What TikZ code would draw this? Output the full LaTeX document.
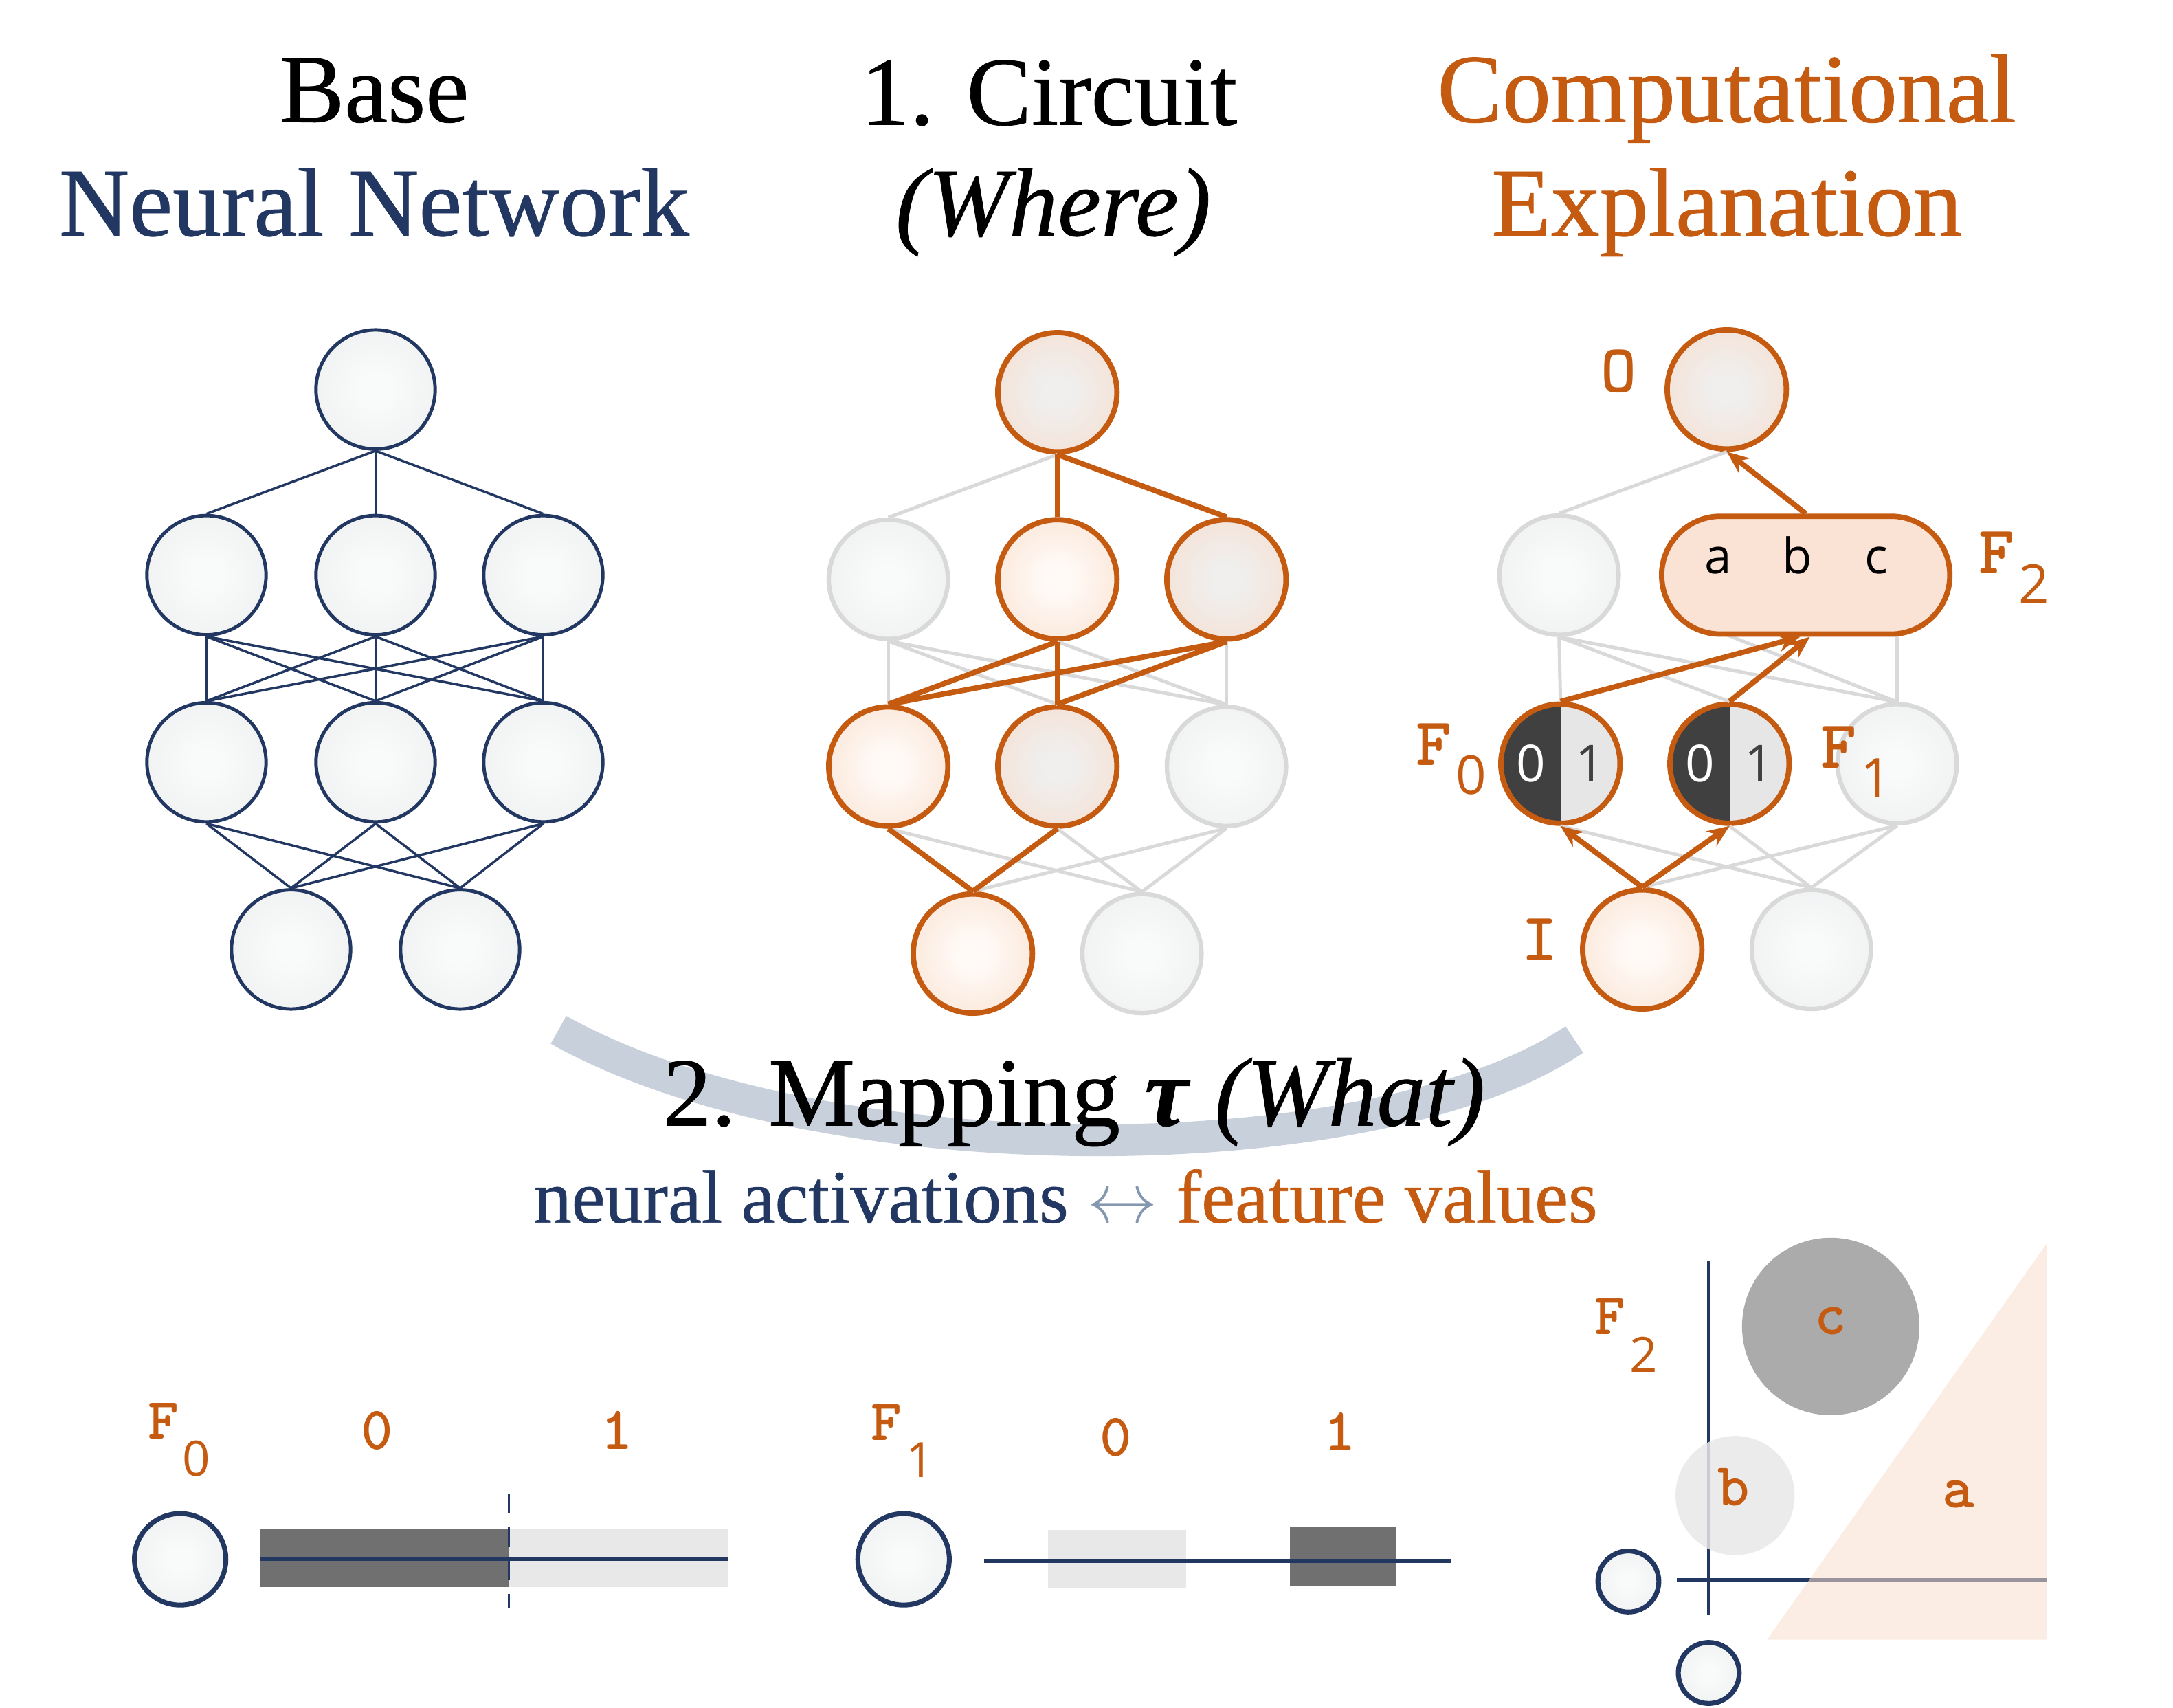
\documentclass[tikz,border=0pt]{standalone}
\usepackage{fontspec}
\setmainfont{Liberation Serif}
\setsansfont{Open Sans}
\newfontfamily\heavyserif{Liberation Serif}[FakeBold=0.6]
\usetikzlibrary{arrows.meta}
\definecolor{navy}{RGB}{34,56,98}
\definecolor{orng}{RGB}{197,90,17}
\definecolor{gbord}{RGB}{217,217,217}
\definecolor{gin}{RGB}{249,250,250}
\definecolor{gout}{RGB}{232,235,236}
\definecolor{pin}{RGB}{255,250,246}
\definecolor{pout}{RGB}{248,215,194}
\definecolor{pgin}{RGB}{240,239,238}
\definecolor{pillc}{RGB}{250,227,213}
\definecolor{darkbar}{RGB}{112,112,112}
\definecolor{lightbar}{RGB}{232,232,232}
\definecolor{ccirc}{RGB}{171,171,171}
\definecolor{arcband}{RGB}{200,208,220}
\definecolor{arrowg}{RGB}{132,151,176}
\definecolor{sdark}{RGB}{64,64,64}
\definecolor{slight}{RGB}{230,230,230}
\definecolor{trifill}{RGB}{250,222,205}
\pgfdeclareradialshading{gball}{\pgfpoint{0bp}{0bp}}{color(0bp)=(gin); color(6bp)=(gin); color(48bp)=(gout); color(72bp)=(gout)}
\pgfdeclareradialshading{oball}{\pgfpoint{0bp}{0bp}}{color(0bp)=(pin); color(6bp)=(pin); color(48bp)=(pout); color(72bp)=(pout)}
\pgfdeclareradialshading{ogball}{\pgfpoint{0bp}{0bp}}{color(0bp)=(pgin); color(6bp)=(pgin); color(48bp)=(pout); color(72bp)=(pout)}
\newcommand{\flabBig}[1]{{\fontsize{14}{14}\selectfont\ttfamily\bfseries F}\kern0.3mm\raisebox{-2.1mm}{\fontsize{11}{11}\selectfont\sffamily #1}}
\newcommand{\flabSmall}[1]{{\fontsize{12}{12}\selectfont\ttfamily\bfseries F}\kern0.3mm\raisebox{-2.7mm}{\fontsize{10}{10}\selectfont\sffamily #1}}
\begin{document}
\begin{tikzpicture}[x=0.1mm,y=-0.1mm,
  nnode/.style={circle,minimum size=8.6mm,inner sep=0pt,draw=navy,line width=0.7pt,shade,shading=gball},
  gnode/.style={circle,minimum size=8.6mm,inner sep=0pt,draw=gbord,line width=0.9pt,shade,shading=gball},
  onode/.style={circle,minimum size=8.6mm,inner sep=0pt,draw=orng,line width=1.1pt,shade,shading=oball},
  ognode/.style={onode,shading=ogball},
  splitnode/.style={circle,minimum size=8.6mm,inner sep=0pt,draw=orng,line width=1.1pt,
    path picture={\fill[sdark] (path picture bounding box.south west) rectangle (path picture bounding box.north);
                  \fill[slight] (path picture bounding box.south) rectangle (path picture bounding box.north east);}},
  pillnode/.style={rectangle,rounded corners=4.25mm,minimum width=20.8mm,minimum height=8.5mm,draw=orng,line width=1.1pt,fill=pillc},
  nedge/.style={navy,line width=0.5pt},
  gedge/.style={gbord,line width=0.7pt},
  oedge/.style={orng,line width=1.1pt},
  oarr/.style={oedge,-{Stealth[length=1.6mm,width=1.3mm]}},
  title/.style={font=\heavyserif\fontsize{20}{24}\selectfont,anchor=base,inner sep=0pt},
  tlab/.style={font=\fontsize{14}{14}\selectfont\ttfamily\bfseries,text=orng,inner sep=0pt},
  blab/.style={font=\fontsize{12.5}{12.5}\selectfont\ttfamily\bfseries,text=orng,inner sep=0pt},
  digw/.style={font=\fontsize{10.5}{10.5}\selectfont\sffamily,inner sep=0pt},
  abcl/.style={font=\fontsize{10}{10}\selectfont\sffamily,inner sep=0pt,anchor=base},
  flab/.style={anchor=base west,text=orng,inner sep=0pt},
  bneuron/.style={circle,inner sep=0pt,draw=navy,line width=1pt,shade,shading=gball}
]
\useasboundingbox (0,0) rectangle (1568,1232);

% ---------------- titles
\node[title] (t1) at (270,88) {Base};
\node[title,text=navy] (t2) at (270,170) {Neural Network};
\node[title] (t3) at (757,90) {1. Circuit};
\node[title] (t4) at (760,170) {\textit{(Where)}};
\node[title,text=orng] (t5) at (1246,88) {Computational};
\node[title,text=orng] (t6) at (1246,170) {Explanation};

% ---------------- network 1 (base)
\node[nnode] (a0) at (271,281) {};
\node[nnode] (a1) at (149,415) {};
\node[nnode] (a2) at (271,415) {};
\node[nnode] (a3) at (392,415) {};
\node[nnode] (a4) at (149,550) {};
\node[nnode] (a5) at (271,550) {};
\node[nnode] (a6) at (392,550) {};
\node[nnode] (a7) at (210,685) {};
\node[nnode] (a8) at (332,685) {};
\foreach \t in {a1,a2,a3} \draw[nedge] (a0.south) -- (\t.north);
\foreach \s in {a1,a2,a3} \foreach \t in {a4,a5,a6} \draw[nedge] (\s.south) -- (\t.north);
\foreach \s in {a4,a5,a6} \foreach \t in {a7,a8} \draw[nedge] (\s.south) -- (\t.north);

% ---------------- network 2 (circuit)
\node[ognode] (b0) at (763,283) {};
\node[gnode] (b1) at (641,418) {};
\node[onode] (b2) at (763,418) {};
\node[ognode] (b3) at (885,418) {};
\node[onode] (b4) at (641,553) {};
\node[ognode] (b5) at (763,553) {};
\node[gnode] (b6) at (885,553) {};
\node[onode] (b7) at (702,688) {};
\node[gnode] (b8) at (824,688) {};
\draw[gedge] (b0.south) -- (b1.north);
\foreach \t in {b4,b5,b6} \draw[gedge] (b1.south) -- (\t.north);
\draw[gedge] (b2.south) -- (b6.north);
\draw[gedge] (b3.south) -- (b6.north);
\draw[gedge] (b4.south) -- (b8.north);
\draw[gedge] (b5.south) -- (b8.north);
\draw[gedge] (b6.south) -- (b7.north);
\draw[gedge] (b6.south) -- (b8.north);
\draw[oedge] (b0.south) -- (b2.north);
\draw[oedge] (b0.south) -- (b3.north);
\foreach \s in {b2,b3} \foreach \t in {b4,b5} \draw[oedge] (\s.south) -- (\t.north);
\draw[oedge] (b4.south) -- (b7.north);
\draw[oedge] (b5.south) -- (b7.north);

% ---------------- network 3 (explanation)
\node[ognode] (c0) at (1246,281) {};
\node[gnode] (c1) at (1125,415) {};
\coordinate (h2) at (1246,458);
\coordinate (h3) at (1369,458);
\node[splitnode] (c4) at (1126,551) {};
\node[splitnode] (c5) at (1248,551) {};
\node[gnode] (c6) at (1369,551) {};
\node[onode] (c7) at (1185,685) {};
\node[gnode] (c8) at (1307,685) {};
\draw[gedge] (c0.south) -- (c1.north);
\foreach \t in {c4,c5,c6} \draw[gedge] (c1.south) -- (\t.north);
\draw[gedge] (h2) -- (c6.north);
\draw[gedge] (h3) -- (c6.north);
\draw[gedge] (c7.north) -- (c6.south);
\foreach \t in {c4,c5,c6} \draw[gedge] (c8.north) -- (\t.south);
\node[pillnode] (f2) at (1303,415) {};
\node[abcl] (la) at (1240,414) {a};
\node[abcl] (lb) at (1297,414) {b};
\node[abcl] (lc) at (1354,414) {c};
\node[digw,text=white] (z0) at ([xshift=-2.15mm]c4.center) {0};
\node[digw,text=sdark] (o0) at ([xshift=2.15mm]c4.center) {1};
\node[digw,text=white] (z1) at ([xshift=-2.15mm]c5.center) {0};
\node[digw,text=sdark] (o1) at ([xshift=2.15mm]c5.center) {1};
\draw[oarr] (c4.north) -- ([xshift=-0.4mm]f2.south);
\draw[oarr] (c5.north) -- ([xshift=0.3mm]f2.south);
\draw[oarr] (f2.north) -- (c0.south);
\draw[oarr] (c7.north) -- (c4.south);
\draw[oarr] (c7.north) -- (c5.south);
\node[tlab] (lO) at (1168,268) {O};
\node[tlab] (lI) at (1111,678) {I};
\node[flab] (lF2) at (1427,414) {\flabBig{2}};
\node[flab] (lF0) at (1021,552) {\flabBig{0}};
\node[flab] (lF1) at (1313,554) {\flabBig{1}};

% ---------------- mapping arc and text
\draw[arcband,line width=2.3mm] (403,743) .. controls (590,848) and (990,848) .. (1136,750);
\node[title] (map) at (775,812) {2. Mapping \textbf{\textit{τ}} \textit{(What)}};
\node[font=\heavyserif\fontsize{15.5}{18}\selectfont,anchor=base,inner sep=0pt] (sub) at (769,882)
  {\textcolor{navy}{neural activations} \textcolor{arrowg}{$\leftrightarrow$} \textcolor{orng}{feature values}};

% ---------------- bottom left: F0
\node[flab] (bF0) at (106,1038) {\flabSmall{0}};
\node[blab] (b00) at (272,1032) {0};
\node[blab] (b01) at (445,1032) {1};
\node[bneuron,minimum size=6.6mm] (d0) at (130,1125) {};
\fill[darkbar] (188,1103) rectangle (367,1145);
\fill[lightbar] (367,1103) rectangle (525,1145);
\draw[navy,line width=0.8pt] (188,1125) -- (525,1125);
\draw[navy,line width=0.4pt,dash pattern=on 1.4mm off 1mm] (367,1078) -- (367,1160);

% ---------------- bottom middle: F1
\node[flab] (bF1) at (628,1039) {\flabSmall{1}};
\node[blab] (b10) at (805,1037) {0};
\node[blab] (b11) at (967,1033) {1};
\node[bneuron,minimum size=6.6mm] (d1) at (652,1125) {};
\fill[lightbar] (756,1104) rectangle (856,1146);
\fill[darkbar] (931,1102) rectangle (1007,1144);
\draw[navy,line width=0.8pt] (710,1126) -- (1047,1126);

% ---------------- bottom right: F2
\node[flab] (bF2) at (1150,963) {\flabSmall{2}};
\draw[navy,line width=0.8pt] (1233,910) -- (1233,1165);
\draw[navy,line width=0.8pt] (1210,1140) -- (1477,1140);
\fill[trifill,opacity=0.55] (1275,1183) -- (1477,1183) -- (1477,897) -- cycle;
\node[circle,minimum size=12.8mm,inner sep=0pt,fill=ccirc] (cc) at (1321,957) {};
\node[circle,minimum size=8.6mm,inner sep=0pt,fill=lightbar,fill opacity=0.85] (cb) at (1252,1079) {};
\node[blab] (lcc) at (1321,953) {c};
\node[blab] (lbb) at (1251,1073) {b};
\node[blab] (laa) at (1413,1078) {a};
\node[bneuron,minimum size=4.4mm] (d2) at (1175,1141) {};
\node[bneuron,minimum size=4.4mm] (d3) at (1233,1207) {};
\end{tikzpicture}
\end{document}
